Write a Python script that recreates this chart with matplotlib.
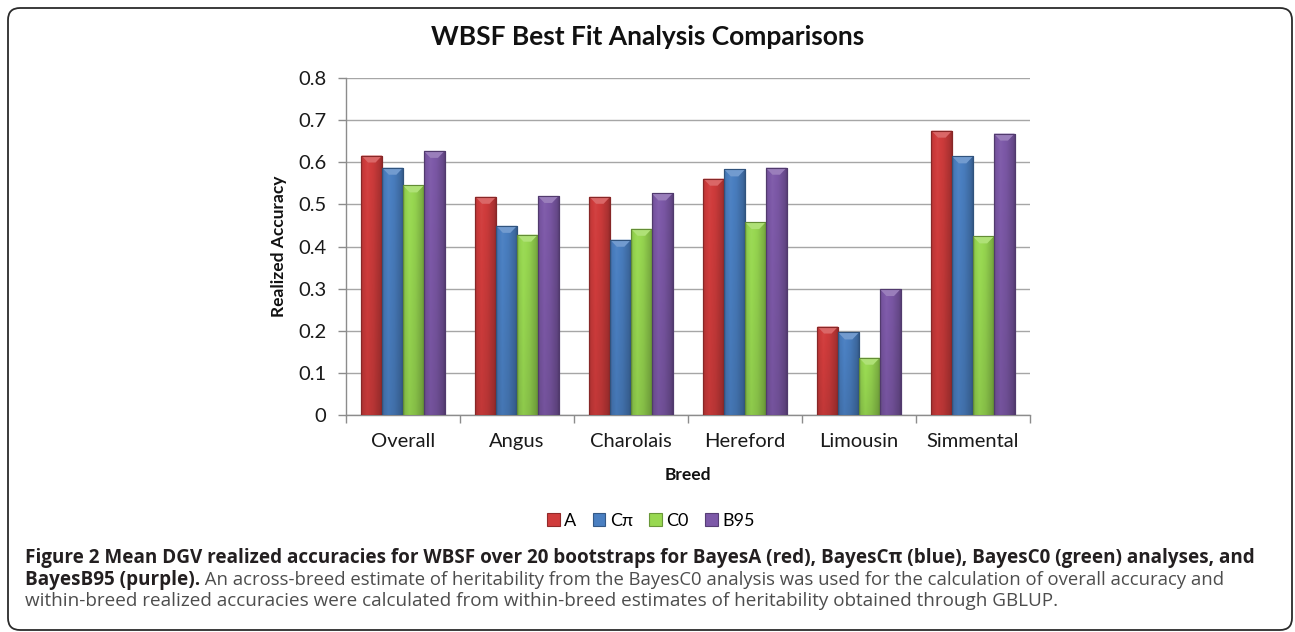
import numpy as np
import matplotlib
matplotlib.use("Agg")
import matplotlib.pyplot as plt
from matplotlib.patches import Patch, FancyBboxPatch, Polygon
from matplotlib.transforms import IdentityTransform
from matplotlib.colors import to_rgb

# ---------------- data ----------------
categories = ["Overall", "Angus", "Charolais", "Hereford", "Limousin", "Simmental"]
series_names = ["A", "C\u03c0", "C0", "B95"]
vals_A   = [0.616, 0.518, 0.518, 0.561, 0.210, 0.675]
vals_Cpi = [0.587, 0.449, 0.416, 0.583, 0.196, 0.614]
vals_C0  = [0.545, 0.428, 0.442, 0.458, 0.136, 0.424]
vals_B95 = [0.627, 0.520, 0.526, 0.587, 0.299, 0.668]
yticks = [0, 0.1, 0.2, 0.3, 0.4, 0.5, 0.6, 0.7, 0.8]
ytick_labels = ["0", "0.1", "0.2", "0.3", "0.4", "0.5", "0.6", "0.7", "0.8"]
title = "WBSF Best Fit Analysis Comparisons"
xlabel = "Breed"
ylabel = "Realized Accuracy"
cap1 = ("Figure 2 Mean DGV realized accuracies for WBSF over 20 bootstraps for BayesA (red), "
        "BayesC\u03c0 (blue), BayesC0 (green) analyses, and")
cap2_bold = "BayesB95 (purple)."
cap2_reg = (" An across-breed estimate of heritability from the BayesC0 analysis was used for the "
            "calculation of overall accuracy and")
cap3 = ("within-breed realized accuracies were calculated from within-breed estimates of "
        "heritability obtained through GBLUP.")

series_vals = [vals_A, vals_Cpi, vals_C0, vals_B95]
colors = ["#D03C3C", "#4A7FC1", "#98D851", "#7D59A8"]

W, H = 1295, 632
fig = plt.figure(figsize=(W / 100, H / 100), dpi=100)
fig.patch.set_facecolor("white")

ax_l, ax_r, ax_t, ax_b = 346, 1030, 78, 415
ax = fig.add_axes([ax_l / W, 1 - ax_b / H, (ax_r - ax_l) / W, (ax_b - ax_t) / H])

n = len(series_vals)
bw = 0.1825
x = np.arange(len(categories))


def shade(c, f):
    c = np.array(to_rgb(c))
    if f >= 1:
        return c + (1 - c) * (f - 1)
    return c * f


def gradient_img(c):
    xs = np.linspace(0, 1, 40)
    prof = np.interp(xs, [0, 0.08, 0.3, 0.6, 0.92, 1.0], [0.82, 0.95, 1.04, 0.97, 0.82, 0.72])
    ys = np.linspace(0, 1, 30)
    vprof = np.interp(ys, [0, 1], [1.0, 0.9])  # top row first
    base = np.array(to_rgb(c))
    img = np.zeros((len(ys), len(xs), 3))
    for i, v in enumerate(vprof):
        for j, p in enumerate(prof):
            f = p * v
            if f >= 1:
                img[i, j] = base + (1 - base) * (f - 1)
            else:
                img[i, j] = base * f
    return np.clip(img, 0, 1)


px_per_unit = (ax_b - ax_t) / 0.8
bevel = 7 / px_per_unit

for k, (vals, c) in enumerate(zip(series_vals, colors)):
    offs = (k - (n - 1) / 2) * bw
    bars = ax.bar(x + offs, vals, bw, color=c, edgecolor=shade(c, 0.7), linewidth=0.8, zorder=3)
    img = gradient_img(c)
    for xi, v, b in zip(x + offs, vals, bars):
        im = ax.imshow(img, extent=[xi - bw / 2, xi + bw / 2, 0, v], aspect="auto",
                       zorder=3.5, interpolation="bilinear")
        im.set_clip_path(b)
        poly = Polygon([[xi - bw / 2, v], [xi + bw / 2, v],
                        [xi + bw * 0.18, v - bevel], [xi - bw * 0.18, v - bevel]],
                       closed=True, facecolor=shade(c, 1.22), edgecolor="none", zorder=4)
        ax.add_patch(poly)
        ax.add_patch(plt.Rectangle((xi - bw / 2, 0), bw, v, fill=False,
                                   edgecolor=shade(c, 0.65), linewidth=0.8, zorder=4.5))

ax.set_xlim(-0.5, len(categories) - 0.5)
ax.set_ylim(0, 0.8)
ax.set_yticks(yticks)
ax.set_yticklabels(ytick_labels)
ax.yaxis.grid(True, color="#A6A6A6", linewidth=1.0, zorder=0)
ax.set_axisbelow(True)
ax.set_xticks(x)
ax.set_xticklabels(categories)
ax.set_xticks(np.arange(-0.5, len(categories), 1), minor=True)
ax.tick_params(axis="x", which="major", length=0, pad=13, labelsize=14.5, labelcolor="#1a1a1a")
ax.tick_params(axis="x", which="minor", length=6, color="#8c8c8c", width=1.0)
ax.tick_params(axis="y", length=6, color="#8c8c8c", width=1.0, pad=8, labelsize=14.5,
               labelcolor="#1a1a1a")
for lab in ax.get_xticklabels() + ax.get_yticklabels():
    lab.set_family("Lato")
for s in ["top", "right"]:
    ax.spines[s].set_visible(False)
for s in ["left", "bottom"]:
    ax.spines[s].set_color("#8c8c8c")
    ax.spines[s].set_linewidth(1.0)

ax.set_xlabel(xlabel, fontsize=12.5, fontweight="bold", family="Lato", labelpad=12, color="#111111")
ax.set_ylabel(ylabel, fontsize=12.5, fontweight="bold", family="Lato", labelpad=8, color="#111111")

fig.text(648 / W, 1 - 37 / H, title, ha="center", va="center", fontsize=19,
         fontweight="bold", family="Lato", color="#111111")

handles = [Patch(facecolor=c, edgecolor=shade(c, 0.7), linewidth=0.8) for c in colors]
fig.legend(handles, series_names, loc="center", bbox_to_anchor=(651 / W, 1 - 521 / H),
           ncol=4, frameon=False, handlelength=0.7, handleheight=0.7,
           handletextpad=0.25, columnspacing=0.9, prop={"family": "Lato", "size": 13})

# rounded border
box = FancyBboxPatch((8, H - 630), 1284, 622, boxstyle="round,pad=0,rounding_size=12",
                     transform=IdentityTransform(), facecolor="none", edgecolor="#2b2b2b",
                     linewidth=1.3)
fig.patches.append(box)

# caption
cap_x = 25
fs = 11.0
t1 = fig.text(cap_x / W, 1 - 558 / H, cap1, ha="left", va="center", fontsize=fs,
              fontweight="bold", family="Open Sans", color="#231F20")
fig.canvas.draw()
r = fig.canvas.get_renderer()
wpx = t1.get_window_extent(r).width
fs = fs * (1253 - cap_x) / wpx
t1.set_fontsize(fs)
t2b = fig.text(cap_x / W, 1 - 580 / H, cap2_bold, ha="left", va="center", fontsize=fs,
               fontweight="bold", family="Open Sans", color="#231F20")
fig.canvas.draw()
bx = t2b.get_window_extent(r).x1
fig.text(bx / W, 1 - 580 / H, cap2_reg, ha="left", va="center", fontsize=fs * 0.975,
         family="Open Sans", color="#4d4d4d")
fig.text(cap_x / W, 1 - 601 / H, cap3, ha="left", va="center", fontsize=fs,
         family="Open Sans", color="#4d4d4d")

fig.savefig("out.png", dpi=100, facecolor="white")
